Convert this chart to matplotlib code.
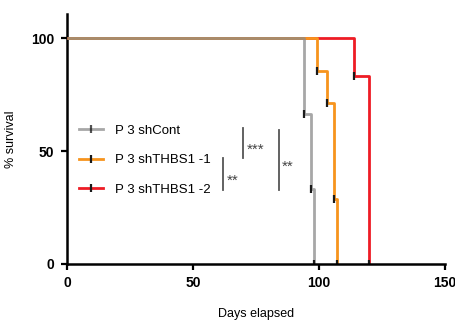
import matplotlib
matplotlib.use("Agg")
import matplotlib.pyplot as plt
from matplotlib.lines import Line2D

# Kaplan-Meier survival steps: (day, % survival after the event)
groups = ["P 3 shCont", "P 3 shTHBS1 -1", "P 3 shTHBS1 -2"]
colors = ["#8a8a8a", "#f7941d", "#ee1c25"]
alphas = [0.75, 1.0, 1.0]

days_cont = [94, 97, 98]
surv_cont = [66.7, 33.3, 0.0]

days_sh1 = [99, 103, 106, 107]
surv_sh1 = [85.7, 71.4, 28.6, 0.0]

days_sh2 = [114, 120]
surv_sh2 = [83.3, 0.0]

series = [(days_cont, surv_cont), (days_sh1, surv_sh1), (days_sh2, surv_sh2)]

x_ticks = [0, 50, 100, 150]
y_ticks = [0, 50, 100]

# significance brackets: (x, y_low, y_high, label)
sig_marks = [(70, 47, 60.5, "***"), (62, 33, 47, "**"), (84, 33, 59.5, "**")]

plt.rcParams['font.family'] = ['Liberation Sans', 'DejaVu Sans']
fig = plt.figure(figsize=(4.56, 3.25), dpi=100)
ax = fig.add_axes([0.147, 0.188, 0.829, 0.77])

# draw later groups first so the control curve sits on top of the shared plateau
for i in [2, 1, 0]:
    d, s = series[i]
    xs = [0] + list(d)
    ys = [100] + list(s)
    ax.step(xs, ys, where='post', color=colors[i], alpha=alphas[i], lw=2.0,
            solid_capstyle='butt', zorder=3 + (2 - i) * 0.1)
    ax.plot(d, s, ls='none', marker='|', ms=6, mew=1.6, color='#1a1a1a', zorder=4)

# legend handles with a tick mark in the middle
leg_handles = [Line2D([0], [0], color=c, alpha=a, lw=2, marker='|', ms=6, mew=1.6,
                      markeredgecolor='#1a1a1a') for c, a in zip(colors, alphas)]
ax.legend(leg_handles, groups, loc='upper left', bbox_to_anchor=(0.0, 0.605),
          frameon=False, fontsize=9.5, handlelength=1.8, handletextpad=0.9,
          labelspacing=1.32, numpoints=1)

for x, y0, y1, lab in sig_marks:
    ax.plot([x, x], [y0, y1], color='#555555', lw=1.3, zorder=2)
    ax.text(x + 1.2, (y0 + y1) / 2 - 3.0, lab, fontsize=11, color='#444444',
            ha='left', va='center')

ax.set_xlim(0, 150)
ax.set_ylim(0, 111)
ax.set_xticks(x_ticks)
ax.set_yticks(y_ticks)
ax.set_xticklabels([str(v) for v in x_ticks], fontweight='bold', fontsize=10)
ax.set_yticklabels([str(v) for v in y_ticks], fontweight='bold', fontsize=10)
ax.tick_params(direction='out', length=4, width=1.6, pad=5)
for side in ['top', 'right']:
    ax.spines[side].set_visible(False)
for side in ['left', 'bottom']:
    ax.spines[side].set_linewidth(1.8)
ax.spines['bottom'].set_zorder(5)
ax.set_xlabel("Days elapsed", fontsize=9, labelpad=13)
ax.set_ylabel("% survival", fontsize=9, labelpad=10)

fig.savefig("out.png", dpi=100)
